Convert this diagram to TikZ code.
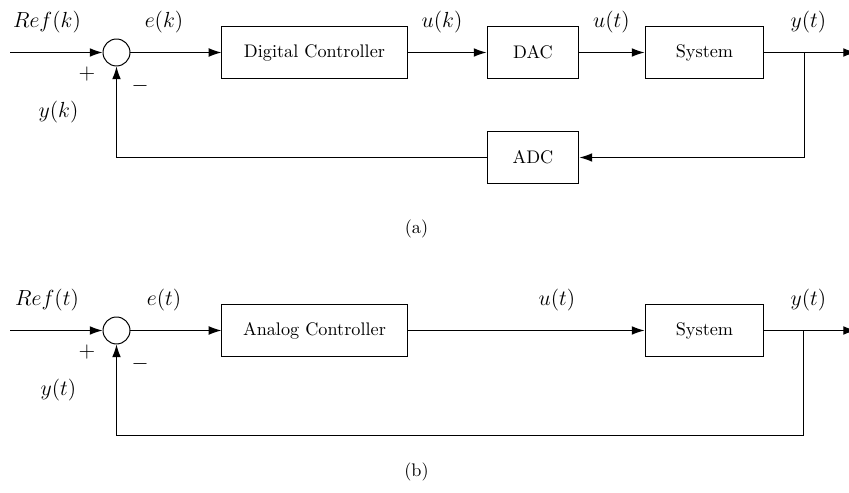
\documentclass[tikz,border=0pt]{standalone}
\usetikzlibrary{arrows.meta}
\begin{document}
\begin{tikzpicture}[x=0.549pt,y=-0.549pt,
  >={Latex[length=7pt,width=4.8pt]}, line width=0.55pt,
  block/.style={draw, minimum height=28.5pt, inner sep=0pt},
  sumnode/.style={draw, circle, minimum size=14.8pt, inner sep=0pt},
  lbl/.style={inner sep=0pt, font=\large}]
\useasboundingbox (0,0) rectangle (849,493);

% (a) digital control loop
\node[sumnode] (s1) at (116.5,52.5) {};
\node[block, minimum width=101.6pt] (c1) at (314.5,52.5) {Digital Controller};
\node[block, minimum width=50.5pt] (dac) at (533,52.5) {DAC};
\node[block, minimum width=65.3pt] (sys1) at (704.5,52.5) {System};
\node[block, minimum width=50.5pt] (adc) at (533,157.5) {ADC};
\coordinate (in1) at (10,52.5);
\coordinate (br1) at (804,52.5);
\coordinate (out1) at (856,52.5);
\draw[->] (in1) -- (s1);
\draw[->] (s1) -- (c1);
\draw[->] (c1) -- (dac);
\draw[->] (dac) -- (sys1);
\draw[->] (sys1) -- (out1);
\draw[->] (br1) |- (adc);
\draw[->] (adc) -| (s1);
\node[lbl] (ref1) at (47,22) {$Ref(k)$};
\node[lbl] (e1) at (164,22) {$e(k)$};
\node[lbl] (uk1) at (442,22) {$u(k)$};
\node[lbl] (ut1) at (611.5,22) {$u(t)$};
\node[lbl] (y1) at (808.5,22) {$y(t)$};
\node[lbl] (p1) at (87,74) {$+$};
\node[lbl] (m1) at (140,86) {$-$};
\node[lbl] (yk1) at (58.5,112.5) {$y(k)$};
\node[inner sep=0pt] (capa) at (416.5,228.5) {(a)};

% (b) analog control loop
\begin{scope}[shift={(0,278)}]
\node[sumnode] (s2) at (116.5,52.5) {};
\node[block, minimum width=101.6pt] (c2) at (314.5,52.5) {Analog Controller};
\node[block, minimum width=65.3pt] (sys2) at (704.5,52.5) {System};
\coordinate (in2) at (10,52.5);
\coordinate (br2) at (803,52.5);
\coordinate (fb2) at (803,157.5);
\coordinate (out2) at (856,52.5);
\draw[->] (in2) -- (s2);
\draw[->] (s2) -- (c2);
\draw[->] (c2) -- (sys2);
\draw[->] (sys2) -- (out2);
\draw[->] (br2) -- (fb2) -| (s2);
\node[lbl] (ref2) at (47,22) {$Ref(t)$};
\node[lbl] (e2) at (164,22) {$e(t)$};
\node[lbl] (ut2) at (557,22) {$u(t)$};
\node[lbl] (y2) at (808.5,22) {$y(t)$};
\node[lbl] (p2) at (87,74) {$+$};
\node[lbl] (m2) at (140,86) {$-$};
\node[lbl] (yt2) at (58.5,112.5) {$y(t)$};
\node[inner sep=0pt] (capb) at (416.5,193.5) {(b)};
\end{scope}
\end{tikzpicture}
\end{document}
